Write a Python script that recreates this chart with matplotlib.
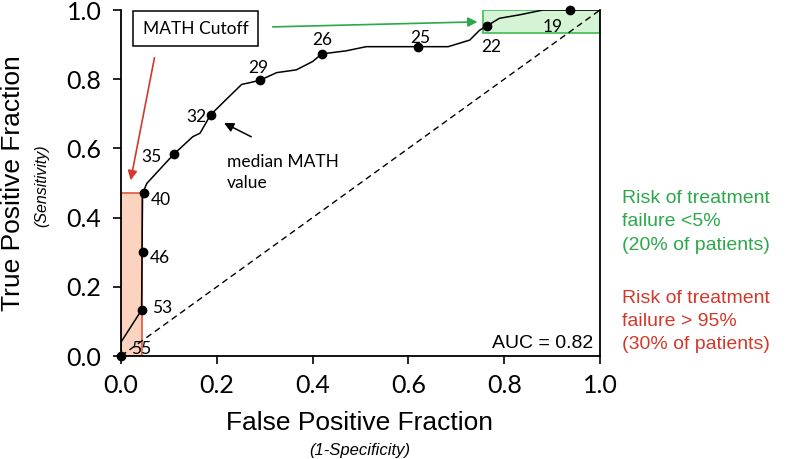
import matplotlib.pyplot as plt
from matplotlib.patches import Rectangle

# ROC curve (1-specificity, sensitivity)
curve_fpr = [0.0, 0.0, 0.043, 0.044, 0.045, 0.054, 0.11, 0.15, 0.165, 0.187, 0.22, 0.252,
             0.269, 0.29, 0.325, 0.366, 0.40, 0.419, 0.47, 0.512, 0.62, 0.683, 0.728,
             0.749, 0.764, 0.79, 0.832, 0.881, 0.938, 1.0]
curve_tpr = [0.0, 0.04, 0.133, 0.30, 0.47, 0.499, 0.583, 0.634, 0.644, 0.697, 0.742, 0.785,
             0.79, 0.797, 0.819, 0.827, 0.851, 0.873, 0.882, 0.894, 0.894, 0.894, 0.913,
             0.942, 0.954, 0.976, 0.986, 1.0, 1.0, 1.0]

# MATH cutoff values marked on the curve
cutoffs = ['55', '53', '46', '40', '35', '32', '29', '26', '25', '22', '19']
cut_fpr = [0.0, 0.043, 0.046, 0.048, 0.11, 0.187, 0.29, 0.419, 0.62, 0.764, 0.938]
cut_tpr = [0.0, 0.133, 0.30, 0.47, 0.583, 0.697, 0.797, 0.873, 0.894, 0.954, 1.0]

ticks = [0.0, 0.2, 0.4, 0.6, 0.8, 1.0]
auc = 0.82
green_note = ['Risk of treatment', 'failure <5%', '(20% of patients)']
red_note = ['Risk of treatment', 'failure > 95%', '(30% of patients)']

green = '#2ca84a'
red = '#d2392b'
calibri = ['Lato', 'DejaVu Sans']
arial = ['Liberation Sans', 'DejaVu Sans']

fig = plt.figure(figsize=(7.86, 4.59), dpi=100)
ax = fig.add_axes([121 / 786, 1 - 356 / 459, 479 / 786, 346 / 459])

# shaded regions
ax.add_patch(Rectangle((0, 0), 0.044, 0.472, facecolor='#fcd3bf', edgecolor='#e0644f',
                       lw=1.3, zorder=1))
ax.add_patch(Rectangle((0.756, 0.933), 0.244, 0.067, facecolor='#d5f4d5', edgecolor='#4cbf62',
                       lw=1.3, zorder=1))

ax.plot([0, 1], [0, 1], color='black', lw=1, ls=(0, (4.5, 3)), zorder=2)
ax.plot(curve_fpr, curve_tpr, color='black', lw=1.1, zorder=3)
ax.plot(cut_fpr, cut_tpr, 'o', color='black', ms=6, zorder=4, clip_on=False)

# label offsets (pixels) next to each marker
offs = [(10, 2, 'left'), (10, -3, 'left'), (7, -11, 'left'), (7, -12, 'left'),
        (-12, -8, 'right'), (-4, -7, 'right'), (-12, 7, 'left'), (-9, 9, 'left'),
        (-8, 4, 'left'), (-6, -26, 'left'), (-28, -22, 'left')]
for lab, x, y, (dx, dy, ha) in zip(cutoffs, cut_fpr, cut_tpr, offs):
    ax.annotate(lab, (x, y), xytext=(dx, dy), textcoords='offset pixels', ha=ha,
                va='baseline', fontsize=12.5, family=calibri, zorder=5)

# MATH cutoff box and arrows
ax.text(0.045, 0.946, 'MATH Cutoff', fontsize=12.5, family=calibri, va='center', ha='left',
        bbox=dict(boxstyle='square,pad=0.55', fc='white', ec='black', lw=1.1), zorder=6)
ax.annotate('', xy=(0.019, 0.5), xytext=(0.071, 0.87),
            arrowprops=dict(arrowstyle='-|>', color=red, lw=1.2, mutation_scale=14))
ax.annotate('', xy=(0.75, 0.966), xytext=(0.311, 0.951),
            arrowprops=dict(arrowstyle='-|>', color=green, lw=1.2, mutation_scale=14))
ax.annotate('', xy=(0.21, 0.677), xytext=(0.277, 0.63),
            arrowprops=dict(arrowstyle='-|>', color='black', lw=1.1, mutation_scale=14))
ax.text(0.221, 0.547, 'median MATH', fontsize=12.5, family=calibri, va='baseline', ha='left')
ax.text(0.221, 0.485, 'value', fontsize=12.5, family=calibri, va='baseline', ha='left')

ax.text(0.985, 0.023, 'AUC = %.2f' % auc, fontsize=14, family=arial, ha='right', va='baseline')

ax.set_xlim(0, 1)
ax.set_ylim(0, 1)
ax.set_xticks(ticks)
ax.set_yticks(ticks)
ax.set_xticklabels(['%.1f' % t for t in ticks], family=calibri, fontsize=18)
ax.set_yticklabels(['%.1f' % t for t in ticks], family=calibri, fontsize=18)
ax.tick_params(direction='out', length=6, width=1.2)
ax.tick_params(axis='y', pad=8)
ax.tick_params(axis='x', pad=7)
ax.spines['top'].set_visible(False)
for s in ['left', 'bottom', 'right']:
    ax.spines[s].set_linewidth(1.3)

# axis titles
fig.text(360 / 786, 1 - 430 / 459, 'False Positive Fraction', fontsize=19, family=arial,
         ha='center', va='baseline')
fig.text(360 / 786, 1 - 455 / 459, '(1-Specificity)', fontsize=12, family=arial,
         style='italic', ha='center', va='baseline')
fig.text(13 / 786, 1 - 183 / 459, 'True Positive Fraction', fontsize=19, family=arial,
         rotation=90, ha='center', va='center')
fig.text(42 / 786, 1 - 186 / 459, '(Sensitivity)', fontsize=11.5, family=arial,
         style='italic', rotation=90, ha='center', va='center')

# risk notes on the right, one line at a time
for i, line in enumerate(green_note):
    fig.text(622 / 786, 1 - (203 + 23.5 * i) / 459, line, color=green, fontsize=14,
             family=arial, ha='left', va='baseline')
for i, line in enumerate(red_note):
    fig.text(622 / 786, 1 - (303 + 23 * i) / 459, line, color=red, fontsize=14,
             family=arial, ha='left', va='baseline')

fig.savefig('out.png', dpi=100)
